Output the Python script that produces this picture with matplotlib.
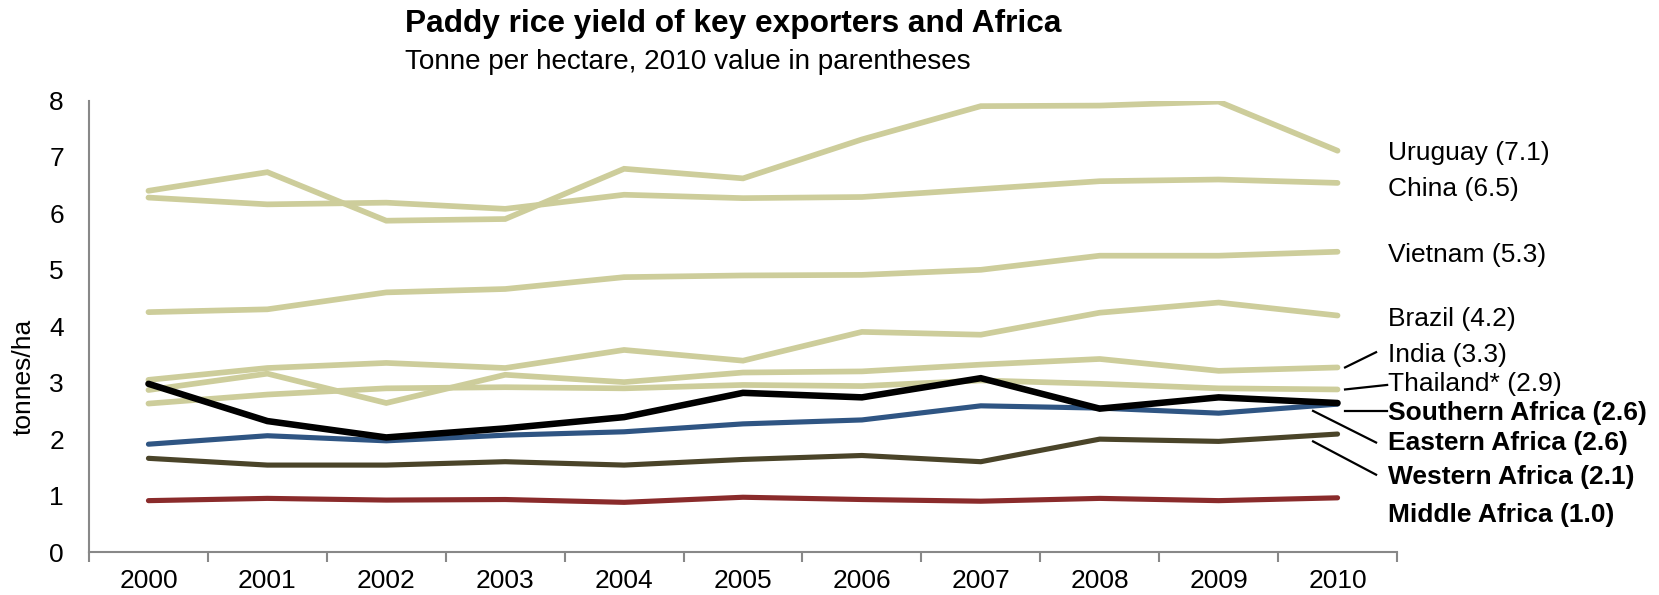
import matplotlib
matplotlib.use("Agg")
import matplotlib.pyplot as plt
from matplotlib.ticker import FixedLocator, NullFormatter

plt.rcParams['font.family'] = ['Liberation Sans', 'DejaVu Sans']

years = ["2000", "2001", "2002", "2003", "2004", "2005", "2006", "2007", "2008", "2009", "2010"]

uruguay = [6.40, 6.73, 5.87, 5.90, 6.79, 6.62, 7.31, 7.90, 7.91, 7.98, 7.11]
china = [6.28, 6.16, 6.19, 6.08, 6.33, 6.27, 6.29, 6.43, 6.57, 6.60, 6.54]
vietnam = [4.25, 4.30, 4.60, 4.66, 4.87, 4.90, 4.91, 5.00, 5.25, 5.25, 5.32]
brazil = [3.05, 3.26, 3.35, 3.26, 3.58, 3.39, 3.90, 3.85, 4.24, 4.42, 4.19]
india = [2.87, 3.16, 2.64, 3.14, 3.01, 3.18, 3.20, 3.32, 3.42, 3.21, 3.27]
thailand = [2.63, 2.79, 2.90, 2.92, 2.90, 2.96, 2.94, 3.04, 2.98, 2.90, 2.88]
southern_africa = [2.98, 2.32, 2.03, 2.19, 2.39, 2.82, 2.74, 3.08, 2.54, 2.74, 2.64]
eastern_africa = [1.91, 2.06, 1.97, 2.07, 2.13, 2.27, 2.34, 2.59, 2.55, 2.46, 2.62]
western_africa = [1.66, 1.54, 1.54, 1.60, 1.54, 1.64, 1.71, 1.60, 2.00, 1.96, 2.09]
middle_africa = [0.91, 0.95, 0.92, 0.93, 0.88, 0.97, 0.93, 0.90, 0.95, 0.91, 0.96]

series_names = ["Uruguay", "China", "Vietnam", "Brazil", "India", "Thailand*",
                "Southern Africa", "Eastern Africa", "Western Africa", "Middle Africa"]
series_values = [uruguay, china, vietnam, brazil, india, thailand,
                 southern_africa, eastern_africa, western_africa, middle_africa]

# styles
TAN = "#CDCD9B"
styles = {
    "Uruguay": dict(color=TAN, lw=4.1, z=2),
    "China": dict(color=TAN, lw=4.1, z=2),
    "Vietnam": dict(color=TAN, lw=4.1, z=2),
    "Brazil": dict(color=TAN, lw=4.1, z=2),
    "India": dict(color=TAN, lw=4.1, z=2),
    "Thailand*": dict(color=TAN, lw=4.1, z=2),
    "Middle Africa": dict(color="#8A2B2B", lw=3.7, z=3),
    "Western Africa": dict(color="#4A4429", lw=3.7, z=3),
    "Eastern Africa": dict(color="#2F5583", lw=3.7, z=4),
    "Southern Africa": dict(color="#000000", lw=4.7, z=5),
}
bold_names = {"Southern Africa", "Eastern Africa", "Western Africa", "Middle Africa"}

# label layout (data-y positions of the end labels)
label_y = [7.07, 6.44, 5.27, 4.13, 3.49, 2.98, 2.47, 1.93, 1.33, 0.66]
label_x = 10.425
# leader lines ((x1, y1), (x2, y2)) in data coordinates
leaders = {
    "India": ((10.063, 3.27), (10.324, 3.54)),
    "Thailand*": ((10.063, 2.88), (10.417, 2.96)),
    "Southern Africa": ((10.063, 2.50), (10.417, 2.50)),
    "Eastern Africa": ((9.794, 2.50), (10.324, 1.94)),
    "Western Africa": ((9.794, 1.96), (10.324, 1.37)),
}

W, H = 1659, 595
fig = plt.figure(figsize=(W / 100, H / 100), dpi=100)
ax = fig.add_axes([89 / W, 1 - 552 / H, (1397 - 89) / W, (552 - 100.5) / H])

x = list(range(len(years)))
for name, vals in zip(series_names, series_values):
    st = styles[name]
    ax.plot(x, vals, color=st["color"], lw=st["lw"], zorder=st["z"],
            solid_capstyle="round", solid_joinstyle="miter")

for name, vals, ly in zip(series_names, series_values, label_y):
    txt = f"{name} ({vals[-1]:.1f})"
    ax.text(label_x, ly, txt, fontsize=19, ha="left", va="center",
            fontweight="bold" if name in bold_names else "normal",
            clip_on=False, zorder=6)

for name, ((x1, y1), (x2, y2)) in leaders.items():
    ax.plot([x1, x2], [y1, y2], color="black", lw=1.6, clip_on=False, zorder=6)

ax.set_xlim(-0.5, 10.5)
ax.set_ylim(0, 8)
ax.set_xticks(x)
ax.set_xticklabels(years, fontsize=19)
ax.tick_params(axis="x", which="major", length=0, pad=12)
ax.xaxis.set_minor_locator(FixedLocator([i - 0.5 for i in range(len(years) + 1)]))
ax.xaxis.set_minor_formatter(NullFormatter())
ax.tick_params(axis="x", which="minor", length=7, width=1.5, color="#888888", direction="out")
ax.set_yticks(range(0, 9))
ax.set_yticklabels([str(i) for i in range(0, 9)], fontsize=19)
ax.tick_params(axis="y", length=0, pad=18)

for side in ["top", "right"]:
    ax.spines[side].set_visible(False)
for side in ["left", "bottom"]:
    ax.spines[side].set_color("#888888")
    ax.spines[side].set_linewidth(1.5)

fig.text(24 / W, 1 - 377 / H, "tonnes/ha", rotation=90, fontsize=19, ha="center", va="center")
fig.text(405 / W, 1 - 24 / H, "Paddy rice yield of key exporters and Africa",
         fontsize=22.8, fontweight="bold", ha="left", va="center")
fig.text(405 / W, 1 - 62 / H, "Tonne per hectare, 2010 value in parentheses",
         fontsize=20.1, ha="left", va="center")

fig.savefig("out.png", dpi=100)
